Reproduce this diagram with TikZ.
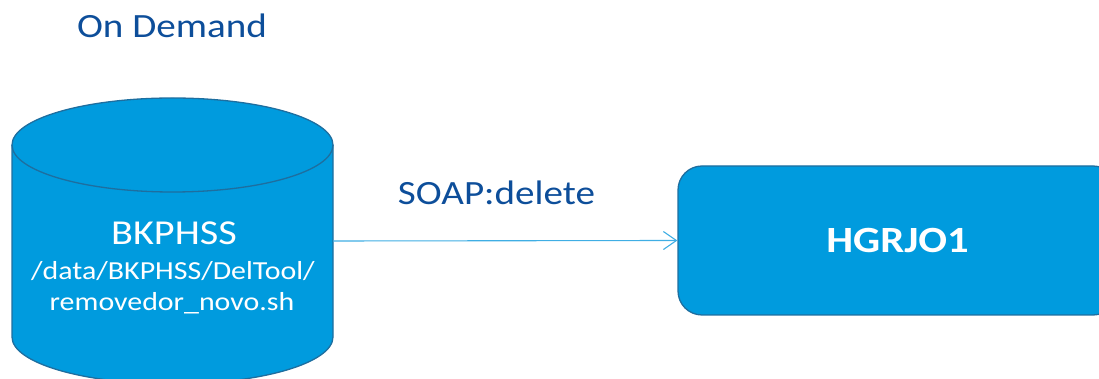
\documentclass[tikz,border=0pt]{standalone}
\usepackage{fontspec}
\setmainfont{Carlito}
\newfontfamily\labelfont[FakeStretch=1.15]{Carlito}
\usetikzlibrary{arrows.meta}
\definecolor{boxblue}{HTML}{009BDE}
\definecolor{boxedge}{HTML}{1E6E9F}
\definecolor{titleblue}{HTML}{0D4E9A}
\definecolor{linkblue}{HTML}{3FAEE4}
\tikzset{
  shapefill/.style={fill=boxblue, draw=boxedge, line width=1.3pt},
  inlabel/.style={text=white, font=\labelfont, anchor=base, inner sep=0pt},
  outlabel/.style={text=titleblue, font=\labelfont, anchor=base, inner sep=0pt},
  link/.style={draw=linkblue, line width=1.1pt,
    -{Straight Barb[length=13pt,width=18pt,line width=1.1pt]}},
}
\begin{document}
\begin{tikzpicture}[x=1pt,y=1pt]
\useasboundingbox (0,0) rectangle (1099,379);
\clip (0,0) rectangle (1099,379);

% title
\node[outlabel, font=\labelfont\fontsize{34}{40}\selectfont] (title) at (172,341) {On Demand};

% database cylinder
\path[shapefill] (12,234) -- (12,42)
  arc[start angle=180, end angle=360, x radius=160.5, y radius=47]
  -- (333,234)
  arc[start angle=0, end angle=180, x radius=160.5, y radius=47] -- cycle;
\draw[boxedge, line width=1.3pt] (12,234)
  arc[start angle=180, end angle=360, x radius=160.5, y radius=47];
\node[inner sep=0pt, minimum width=321pt, minimum height=192pt] (db) at (172.5,138) {};
\node[inlabel, font=\labelfont\fontsize{35}{40}\selectfont] (dbname) at (174,134) {BKPHSS};
\node[inlabel, font=\labelfont\fontsize{26}{30}\selectfont] (dbpath) at (173,99) {/data/BKPHSS/DelTool/};
\node[inlabel, font=\labelfont\fontsize{26}{30}\selectfont] (dbscript) at (172,68) {removedor\_novo.sh};

% target host
\node[shapefill, rounded corners=24pt, minimum width=439pt, minimum height=149pt,
      inner sep=0pt] (host) at (897.5,138.5) {};
\node[inlabel, font=\labelfont\bfseries\fontsize{37}{42}\selectfont] (hostname) at (897.5,126) {HGRJO1};

% call
\draw[link] (db.east) -- (host.west);
\node[outlabel, font=\labelfont\fontsize{34}{40}\selectfont] (call) at (496.5,174) {SOAP:delete};
\end{tikzpicture}
\end{document}
